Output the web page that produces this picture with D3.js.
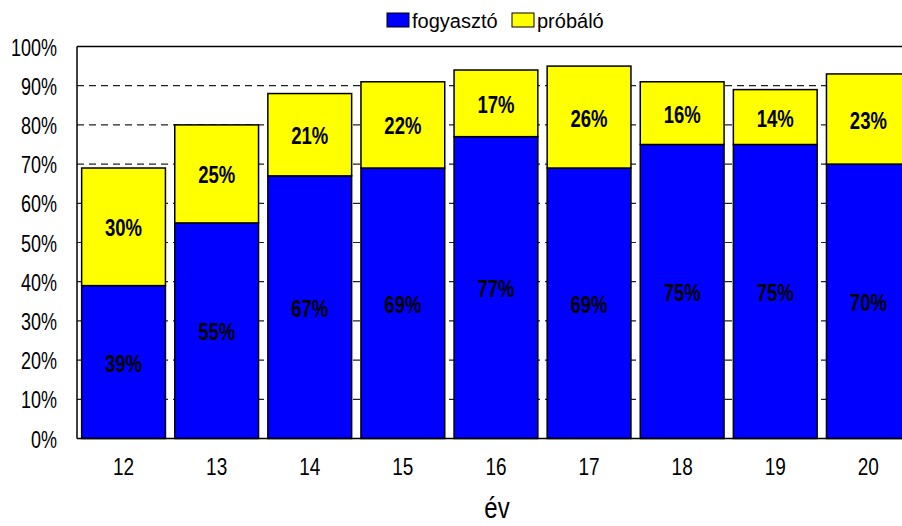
<!DOCTYPE html>
<html>
<head>
<meta charset="utf-8">
<script src="https://cdn.jsdelivr.net/npm/d3@7"></script>
<style>
  body { margin: 0; background: #fff; }
  svg { display: block; font-family: "Liberation Sans", Arial, sans-serif; }
</style>
</head>
<body>
<div class="chart"></div>
<script>
// values, in percent
const years = ["12", "13", "14", "15", "16", "17", "18", "19", "20"];
const fogyaszto = [39, 55, 67, 69, 77, 69, 75, 75, 70];
const probalo = [30, 25, 21, 22, 17, 26, 16, 14, 23];
const yTicks = [0, 10, 20, 30, 40, 50, 60, 70, 80, 90, 100];
const seriesNames = ["fogyasztó", "próbáló"];
const seriesColors = ["#0000ff", "#ffff00"];
const xTitle = "év";

const w = 902;
const h = 526;
const plotLeft = 77;
const plotTop = 46.5;
const plotBottom = 438.5;

const svg = d3
  .select(".chart")
  .append("svg")
  .attr("width", w)
  .attr("height", h);

// the original is stretched vertically, so texts get a y scale
function stretchedText(parent, x, y, s, txt) {
  return parent
    .append("text")
    .attr("transform", `translate(${x},${y}) scale(1,${s})`)
    .text(txt);
}

const xScale = d3
  .scaleBand()
  .domain(years)
  .range([plotLeft, plotLeft + 9 * 93.1])
  .paddingInner(0.1)
  .paddingOuter(0.05);

const yScale = d3.scaleLinear().domain([0, 100]).range([plotBottom, plotTop]);

// dashed grid behind the bars
svg
  .append("g")
  .selectAll("line")
  .data(yTicks.filter((d) => d > 0 && d < 100))
  .enter()
  .append("line")
  .attr("x1", plotLeft)
  .attr("x2", w)
  .attr("y1", (d) => yScale(d))
  .attr("y2", (d) => yScale(d))
  .attr("stroke", "#222")
  .attr("stroke-width", 1.2)
  .attr("stroke-dasharray", "7,5");

// top border of plot
svg
  .append("line")
  .attr("x1", plotLeft)
  .attr("x2", w)
  .attr("y1", yScale(100))
  .attr("y2", yScale(100))
  .attr("stroke", "#000")
  .attr("stroke-width", 1.5);

const rows = years.map((y, i) => ({
  year: y,
  values: [fogyaszto[i], probalo[i]],
}));

const stacked = d3
  .stack()
  .keys([0, 1])
  .value((d, k) => d.values[k])(rows);

const layers = svg
  .selectAll("g.layer")
  .data(stacked)
  .enter()
  .append("g")
  .attr("class", "layer")
  .attr("fill", (d, i) => seriesColors[i]);

layers
  .selectAll("rect")
  .data((d) => d)
  .enter()
  .append("rect")
  .attr("x", (d) => xScale(d.data.year))
  .attr("width", xScale.bandwidth())
  .attr("y", (d) => yScale(d[1]))
  .attr("height", (d) => yScale(d[0]) - yScale(d[1]))
  .attr("stroke", "#000")
  .attr("stroke-width", 1.5);

// value labels in the middle of each segment
stacked.forEach((layer) => {
  layer.forEach((d) => {
    const cy = yScale((d[0] + d[1]) / 2);
    stretchedText(
      svg,
      xScale(d.data.year) + xScale.bandwidth() / 2,
      cy + 9.5,
      1.27,
      d[1] - d[0] + "%"
    )
      .attr("text-anchor", "middle")
      .attr("font-size", "18.5px")
      .attr("font-weight", "bold")
      .attr("fill", "#000");
  });
});

// axes lines
svg
  .append("line")
  .attr("x1", plotLeft)
  .attr("x2", plotLeft)
  .attr("y1", plotTop)
  .attr("y2", plotBottom)
  .attr("stroke", "#000")
  .attr("stroke-width", 1.5);

svg
  .append("line")
  .attr("x1", plotLeft)
  .attr("x2", w)
  .attr("y1", plotBottom)
  .attr("y2", plotBottom)
  .attr("stroke", "#000")
  .attr("stroke-width", 1.5);

// y tick labels
const yAxis = svg.append("g");
yTicks.forEach((t) => {
  stretchedText(yAxis, 57, yScale(t) + 9, 1.3, t + "%")
    .attr("text-anchor", "end")
    .attr("font-size", "18px")
    .attr("fill", "#000");
});

// x tick labels
const xAxis = svg.append("g");
years.forEach((y) => {
  stretchedText(xAxis, xScale(y) + xScale.bandwidth() / 2, 474.5, 1.25, y)
    .attr("text-anchor", "middle")
    .attr("font-size", "19px")
    .attr("fill", "#000");
});

// axis title
stretchedText(svg, 497, 518, 1.2, xTitle)
  .attr("text-anchor", "middle")
  .attr("font-size", "24px")
  .attr("fill", "#000");

// legend
const legendX = [387, 512];
const legend = svg.append("g");
seriesNames.forEach((name, i) => {
  legend
    .append("rect")
    .attr("x", legendX[i])
    .attr("y", 13)
    .attr("width", 22)
    .attr("height", 14)
    .attr("fill", seriesColors[i])
    .attr("stroke", "#000")
    .attr("stroke-width", 1);
  legend
    .append("text")
    .attr("x", legendX[i] + 25)
    .attr("y", 27.5)
    .attr("font-size", "20px")
    .attr("fill", "#000")
    .text(name);
});
</script>
</body>
</html>
